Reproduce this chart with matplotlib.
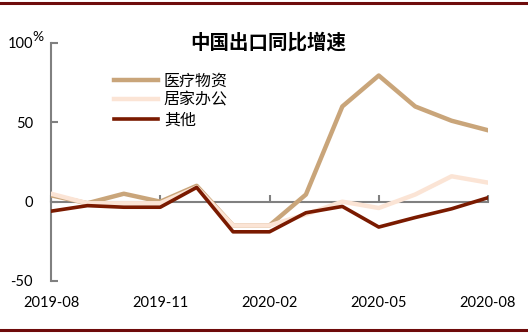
import numpy as np
import matplotlib.pyplot as plt
from matplotlib.lines import Line2D

plt.rcParams['font.family'] = ['Noto Sans CJK SC', 'DejaVu Sans']

months = ['2019-08', '2019-09', '2019-10', '2019-11', '2019-12', '2020-01', '2020-02',
          '2020-03', '2020-04', '2020-05', '2020-06', '2020-07', '2020-08']
medical = [4, -1, 5, 0, 10, -15, -15, 4.5, 60, 79.5, 60, 51, 45]
home_office = [5, -1, -1, -1, 9, -15, -15, -8, 0, -4, 4.5, 16, 12]
other = [-6, -2.5, -3.5, -3.5, 9, -19, -19, -7, -3, -16, -10, -4.5, 2.5]
names = ['医疗物资', '居家办公', '其他']
tick_idx = [0, 3, 6, 9, 12]

fig = plt.figure(figsize=(5.28, 3.33), dpi=100)
ax = fig.add_axes([51/528, 1-281/333, (488-51)/528, (281-43)/333])

x = np.arange(len(months))
ax.plot(x, medical, color='#C9A57A', lw=3.2, label=names[0], zorder=3)
ax.plot(x, home_office, color='#FBE4D5', lw=3.2, label=names[1], zorder=4)
ax.plot(x, other, color='#7A1A00', lw=2.6, label=names[2], zorder=5)

ax.set_xlim(0, 12)
ax.set_ylim(-50, 100)
ax.set_yticks([-50, 0, 50, 100])
ax.set_yticklabels(['-50', '0', '50', '100'])
ax.set_xticks(tick_idx)
ax.set_xticklabels([months[i] for i in tick_idx])

gray = '#808080'
for s in ['top', 'right']:
    ax.spines[s].set_visible(False)
ax.spines['left'].set_color(gray)
ax.spines['left'].set_linewidth(1.5)
ax.spines['bottom'].set_position(('data', 0))
ax.spines['bottom'].set_color(gray)
ax.spines['bottom'].set_linewidth(1.5)
ax.tick_params(axis='y', direction='in', length=5, width=1.5, color=gray,
               labelsize=10.5, pad=13)
ax.tick_params(axis='x', direction='in', length=5, width=1.5, color=gray,
               labelsize=10.5, pad=68)
for lab in ax.get_xticklabels() + ax.get_yticklabels():
    lab.set_fontfamily(['Lato', 'DejaVu Sans'])

fig.text(32/528, 1-37/333, '%', fontsize=10, family=['Lato', 'DejaVu Sans'],
         ha='left', va='center')
fig.text(268/528, 1-43/333, '中国出口同比增速', fontsize=14, fontweight='bold',
         ha='center', va='center')

ax.legend(loc='upper left', bbox_to_anchor=(108/528, 1-66/333),
          bbox_transform=fig.transFigure, frameon=False, fontsize=11.5,
          handlelength=2.7, handletextpad=0.4, labelspacing=0.15, borderaxespad=0)

fig.add_artist(Line2D([0, 1], [1-2.5/333, 1-2.5/333], color='#6E0B0B', lw=2.2))
fig.add_artist(Line2D([0, 1], [1-329.5/333, 1-329.5/333], color='#6E0B0B', lw=2.2))

fig.savefig('out.png', dpi=100)
